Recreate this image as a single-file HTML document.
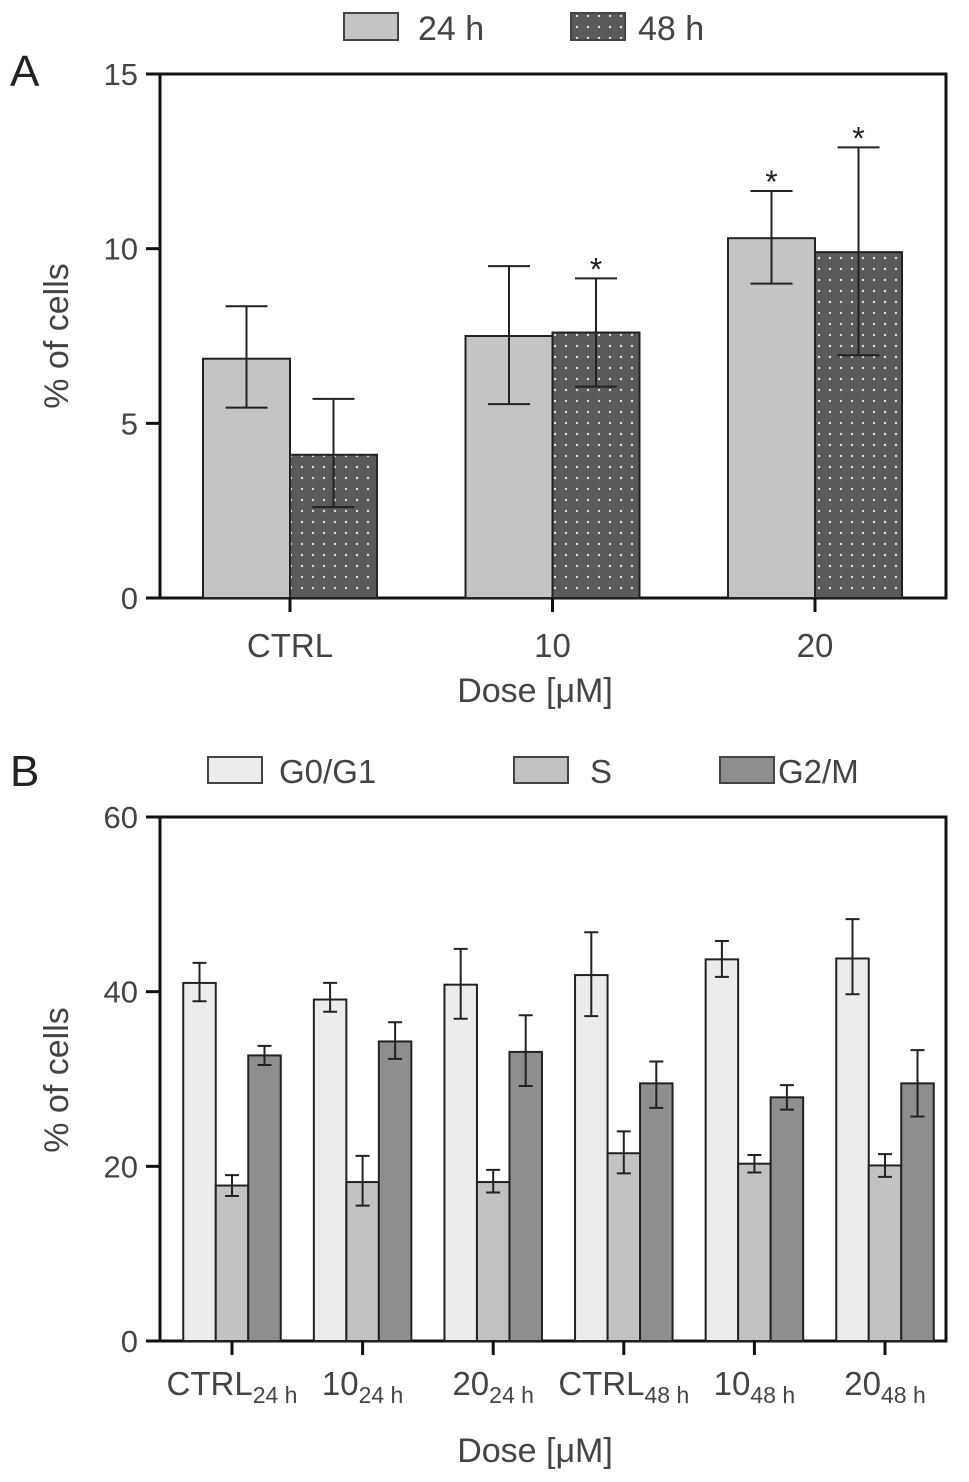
<!DOCTYPE html>
<html><head><meta charset="utf-8"><style>
body{margin:0;background:#fff}
svg{display:block;font-family:"Liberation Sans",Arial,sans-serif}
</style></head><body>
<svg id="fig" width="969" height="1482" viewBox="0 0 969 1482" xmlns="http://www.w3.org/2000/svg">
<defs>
<pattern id="dots" width="11" height="11" patternUnits="userSpaceOnUse">
<rect width="11" height="11" fill="#5a5a5a"/><circle cx="5" cy="5" r="1.2" fill="#ddd"/>
</pattern>
</defs>
<g id="A"></g>
<g id="B"></g>
</svg>
<script>
// Panel A data
const aCategories = ["CTRL","10","20"];
const a24 = [6.85, 7.5, 10.3];
const a24Hi = [8.35, 9.5, 11.65];
const a24Lo = [5.45, 5.55, 9.0];
const a48 = [4.1, 7.6, 9.9];
const a48Hi = [5.7, 9.15, 12.9];
const a48Lo = [2.6, 6.05, 6.95];
const a24Star = [false, false, true];
const a48Star = [false, true, true];
const aTicks = [0,5,10,15];
// Panel B data
const bCategories = ["CTRL","10","20","CTRL","10","20"];
const bSubs = ["24 h","24 h","24 h","48 h","48 h","48 h"];
const bG0 = [41, 39.1, 40.8, 41.9, 43.7, 43.8];
const bG0Hi = [43.3, 41, 44.9, 46.8, 45.8, 48.3];
const bG0Lo = [38.9, 37.7, 36.9, 37.2, 41.7, 39.7];
const bS = [17.8, 18.2, 18.2, 21.5, 20.3, 20.1];
const bSHi = [19, 21.2, 19.6, 24, 21.3, 21.4];
const bSLo = [16.6, 15.5, 17, 19.2, 19.3, 18.8];
const bG2 = [32.7, 34.3, 33.1, 29.5, 27.9, 29.5];
const bG2Hi = [33.8, 36.5, 37.3, 32, 29.3, 33.3];
const bG2Lo = [31.6, 32.3, 29.2, 26.7, 26.5, 25.7];
const bTicks = [0,20,40,60];

const NS="http://www.w3.org/2000/svg";
function mk(parent,tag,attrs,text){const e=document.createElementNS(NS,tag);for(const k in attrs)e.setAttribute(k,attrs[k]);if(text!==undefined)e.textContent=text;parent.appendChild(e);return e;}

function axes(g,top,bot,maxV,ticks,name){
  const y=v=>bot-(bot-top)*v/maxV;
  const frame=mk(g,'rect',{x:160,y:top,width:786,height:bot-top,fill:'none',stroke:'#111','stroke-width':3});
  
  
  ticks.forEach(t=>{
    const l=mk(g,'line',{x1:146,x2:160,y1:y(t),y2:y(t),stroke:'#111','stroke-width':3});
    
    
    const tx=mk(g,'text',{x:138,y:y(t)+11,'text-anchor':'end','font-size':31,fill:'#444'},t);
    
    
  });
  return y;
}
function errbar(g,x,hi,lo,w,name){
  const p=mk(g,'path',{d:`M${x-w} ${hi}H${x+w}M${x} ${hi}V${lo}M${x-w} ${lo}H${x+w}`,stroke:'#222','stroke-width':2,fill:'none'});
  
  
}

// Panel A
(function(){
  const g=document.getElementById('A');
  const top=74,bot=598;
  const y=axes(g,top,bot,15,aTicks,'a');
  const cx=i=>290+i*262.5;
  const bw=87;
  aCategories.forEach((c,i)=>{
    const x=cx(i);
    const r1=mk(g,'rect',{x:x-bw,y:y(a24[i]),width:bw,height:bot-y(a24[i]),fill:'#c4c4c4',stroke:'#222','stroke-width':2});
    
    
    const r2=mk(g,'rect',{x:x,y:y(a48[i]),width:bw,height:bot-y(a48[i]),fill:'url(#dots)',stroke:'#222','stroke-width':2});
    
    
    errbar(g,x-bw/2,y(a24Hi[i]),y(a24Lo[i]),21,'error-bar-24h');
    errbar(g,x+bw/2,y(a48Hi[i]),y(a48Lo[i]),21,'error-bar-48h');
    if(a24Star[i]){const s=mk(g,'text',{x:x-bw/2,y:y(a24Hi[i])+2,'text-anchor':'middle','font-size':32,fill:'#222'},'*');}
    if(a48Star[i]){const s=mk(g,'text',{x:x+bw/2,y:y(a48Hi[i])+2,'text-anchor':'middle','font-size':32,fill:'#222'},'*');}
    const t=mk(g,'line',{x1:x,x2:x,y1:bot,y2:bot+14,stroke:'#111','stroke-width':3});
    
    
    const l=mk(g,'text',{x:x,y:657,'text-anchor':'middle','font-size':33,fill:'#444'},c);
    
    
  });
})();

// Panel B
(function(){
  const g=document.getElementById('B');
  const top=817,bot=1341;
  const y=axes(g,top,bot,60,bTicks,'b');
  const cx=i=>232+i*130.6;
  const bw=32.5;
  const series=[[bG0,bG0Hi,bG0Lo,'#ececec','g0g1'],[bS,bSHi,bSLo,'#c2c2c2','s'],[bG2,bG2Hi,bG2Lo,'#8e8e8e','g2m']];
  bCategories.forEach((c,i)=>{
    const x=cx(i);
    series.forEach((s,j)=>{
      const bx=x-bw*1.5+j*bw;
      const r=mk(g,'rect',{x:bx,y:y(s[0][i]),width:bw,height:bot-y(s[0][i]),fill:s[3],stroke:'#222','stroke-width':2});
      
      
      errbar(g,bx+bw/2,y(s[1][i]),y(s[2][i]),7,'error-bar-'+s[4]);
    });
    const t=mk(g,'line',{x1:x,x2:x,y1:bot,y2:bot+14,stroke:'#111','stroke-width':3});
    
    
    const l=mk(g,'text',{x:x,y:1395,'text-anchor':'middle','font-size':33,fill:'#444'});
    
    
    mk(l,'tspan',{},c);
    mk(l,'tspan',{'font-size':23,dy:8},bSubs[i]);
  });
})();
</script>
<svg width="969" height="1482" style="position:absolute;left:0;top:0" xmlns="http://www.w3.org/2000/svg">
<g font-family="Liberation Sans, Arial, sans-serif" fill="#444">
<text x="10" y="86" font-size="44" fill="#222">A</text>
<text x="10" y="786" font-size="44" fill="#222">B</text>
<rect x="344" y="13" width="54" height="27" fill="#c4c4c4" stroke="#444" stroke-width="2"/>
<text x="418" y="40" font-size="34">24 h</text>
<rect x="571" y="13" width="54" height="27" fill="url(#dots)" stroke="#444" stroke-width="2"/>
<text x="638" y="40" font-size="34">48 h</text>
<rect x="208" y="757" width="54" height="26" fill="#ececec" stroke="#444" stroke-width="2"/>
<text x="279" y="783" font-size="33">G0/G1</text>
<rect x="514" y="757" width="54" height="26" fill="#c2c2c2" stroke="#444" stroke-width="2"/>
<text x="590" y="783" font-size="33">S</text>
<rect x="720" y="757" width="54" height="26" fill="#8e8e8e" stroke="#444" stroke-width="2"/>
<text x="778" y="783" font-size="33">G2/M</text>
<text transform="translate(68,336) rotate(-90)" text-anchor="middle" font-size="34">% of cells</text>
<text transform="translate(68,1080) rotate(-90)" text-anchor="middle" font-size="34">% of cells</text>
<text x="535" y="702" text-anchor="middle" font-size="34">Dose [μM]</text>
<text x="535" y="1462" text-anchor="middle" font-size="34">Dose [μM]</text>
</g>
</svg>
</body></html>
